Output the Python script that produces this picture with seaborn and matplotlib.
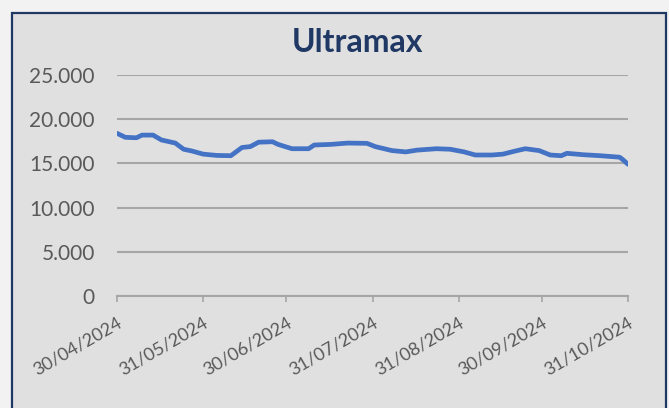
import matplotlib
matplotlib.use("Agg")
import matplotlib.pyplot as plt
import matplotlib.dates as mdates
from matplotlib.patches import Rectangle
from matplotlib.ticker import FuncFormatter
import seaborn as sns
import pandas as pd

# ---- data ----
dates = ["2024-04-30", "2024-05-03", "2024-05-07", "2024-05-09", "2024-05-13", "2024-05-16",
         "2024-05-21", "2024-05-24", "2024-05-27", "2024-05-31", "2024-06-05", "2024-06-10",
         "2024-06-11", "2024-06-14", "2024-06-17", "2024-06-20", "2024-06-25", "2024-06-27",
         "2024-07-02", "2024-07-08", "2024-07-10", "2024-07-16", "2024-07-22", "2024-07-29",
         "2024-08-01", "2024-08-07", "2024-08-12", "2024-08-16", "2024-08-23", "2024-08-28",
         "2024-09-02", "2024-09-06", "2024-09-12", "2024-09-16", "2024-09-20", "2024-09-24",
         "2024-09-29", "2024-10-03", "2024-10-07", "2024-10-09", "2024-10-15", "2024-10-21",
         "2024-10-28", "2024-10-29", "2024-10-31"]
values = [18400, 17950, 17900, 18200, 18200, 17650,
          17300, 16600, 16400, 16050, 15900, 15870,
          16100, 16800, 16900, 17400, 17450, 17150,
          16660, 16660, 17080, 17150, 17300, 17270,
          16900, 16450, 16300, 16500, 16660, 16600,
          16300, 15950, 15950, 16050, 16370, 16660,
          16450, 15950, 15870, 16140, 15980, 15870,
          15700, 15460, 14900]
tick_dates = ["2024-04-30", "2024-05-31", "2024-06-30", "2024-07-31",
              "2024-08-31", "2024-09-30", "2024-10-31"]
tick_labels = ["30/04/2024", "31/05/2024", "30/06/2024", "31/07/2024",
               "31/08/2024", "30/09/2024", "31/10/2024"]
y_ticks = [0, 5000, 10000, 15000, 20000, 25000]
title = "Ultramax"

df = pd.DataFrame({"date": pd.to_datetime(dates), "value": values})

sns.set_theme(style="white")
plt.rcParams['font.family'] = ['Lato', 'DejaVu Sans']

W, H = 669, 408
fig = plt.figure(figsize=(W / 100, H / 100), dpi=100, facecolor="#F2F2F2")

# chart box
box = Rectangle((12 / W, -0.02), (666 - 12) / W, (H - 13) / H + 0.02,
                transform=fig.transFigure, facecolor="#E0E0E0",
                edgecolor="#1F3864", lw=1.6, zorder=-10)
fig.patches.append(box)

ax = fig.add_axes([117 / W, (H - 296) / H, (628 - 117) / W, (296 - 75) / H])
ax.set_zorder(1)
ax.set_facecolor("none")

sns.lineplot(data=df, x="date", y="value", ax=ax, color="#4472C4", lw=3.4, zorder=3)

ax.set_ylim(0, 25000)
ax.set_xlim(pd.Timestamp(dates[0]), pd.Timestamp(dates[-1]))
ax.set_yticks(y_ticks)
ax.yaxis.set_major_formatter(FuncFormatter(lambda v, p: "0" if v == 0 else f"{int(v):,}".replace(",", ".")))
ax.grid(axis="y", color="#A6A6A6", lw=1.5, zorder=1)
ax.grid(axis="x", visible=False)
ax.set_axisbelow(True)

ax.set_xticks(pd.to_datetime(tick_dates))
ax.set_xticklabels(tick_labels, rotation=30, ha="right", va="top", rotation_mode="anchor")

for s in ["top", "right", "left"]:
    ax.spines[s].set_visible(False)
ax.spines["bottom"].set_color("#A6A6A6")
ax.spines["bottom"].set_linewidth(1.5)

ax.tick_params(axis="y", length=0, pad=16, labelsize=15, labelcolor="#595959")
ax.tick_params(axis="x", length=4.5, width=1.2, color="#A6A6A6", pad=9,
               labelsize=13, labelcolor="#595959", bottom=True)
ax.set_xlabel("")
ax.set_ylabel("")

fig.text(357 / W, (H - 42) / H, title, ha="center", va="center",
         fontsize=23, fontweight="bold", color="#1F3864")

fig.savefig("out.png", dpi=100, facecolor=fig.get_facecolor())
